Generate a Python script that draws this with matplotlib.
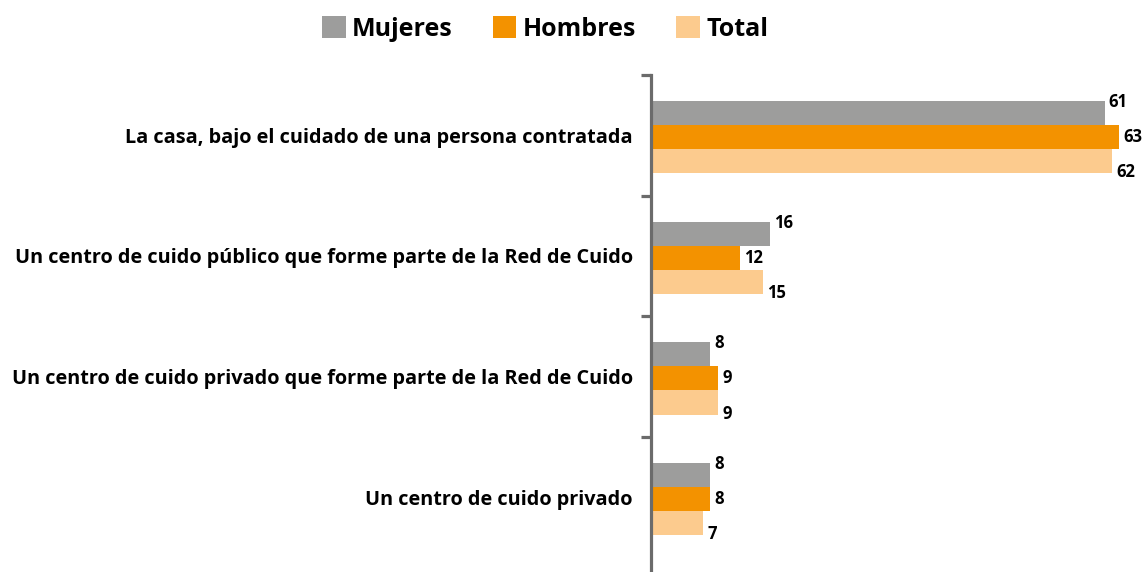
import matplotlib.pyplot as plt
from matplotlib.patches import Patch
import numpy as np

categories = [
    "La casa, bajo el cuidado de una persona contratada",
    "Un centro de cuido público que forme parte de la Red de Cuido",
    "Un centro de cuido privado que forme parte de la Red de Cuido",
    "Un centro de cuido privado",
]
series_names = ["Mujeres", "Hombres", "Total"]
mujeres = [61, 16, 8, 8]
hombres = [63, 12, 9, 8]
total = [62, 15, 9, 7]

colors = ["#9d9d9c", "#f39200", "#fccb8e"]
label_dy = [8, 0, -8]  # points: labels nudged up / down like the original

plt.rcParams['font.family'] = ['Open Sans', 'DejaVu Sans']

fig = plt.figure(figsize=(11.47, 5.72), dpi=100)
ax = fig.add_axes([651 / 1147, 0, 1 - 651 / 1147, 1 - 75 / 572])

y = np.arange(len(categories))
h = 0.2
for i, (vals, col, dy) in enumerate(zip([mujeres, hombres, total], colors, label_dy)):
    pos = y + (i - 1) * h + 0.015
    ax.barh(pos, vals, height=h, color=col, edgecolor='none')
    for p, v in zip(pos, vals):
        ax.annotate(str(v), (v, p), xytext=(3, dy), textcoords='offset points',
                    ha='left', va='center', fontsize=12, fontweight='bold')

ax.set_xlim(0, 66.7)
ax.set_ylim(3.62, -0.5)

# axis: only the left spine with outward ticks at category boundaries
for s in ['top', 'right', 'bottom']:
    ax.spines[s].set_visible(False)
ax.spines['left'].set_color('#6b6b6b')
ax.spines['left'].set_linewidth(2.3)
ax.set_xticks([])
ax.set_yticks([-0.5, 0.5, 1.5, 2.5], minor=False)
ax.set_yticklabels([])
ax.tick_params(axis='y', which='major', length=7, width=2.3, color='#6b6b6b')
ax.set_yticks(y, minor=True)
ax.set_yticklabels(categories, minor=True, fontsize=14.3, fontweight='bold')
ax.tick_params(axis='y', which='minor', length=0, pad=13)

handles = [Patch(facecolor=c, edgecolor='none') for c in colors]
fig.legend(handles, series_names, loc='center', bbox_to_anchor=(545 / 1147, 1 - 29 / 572),
           ncol=3, frameon=False, prop={'weight': 'bold', 'size': 18},
           handlelength=0.95, handleheight=0.95, handletextpad=0.25, columnspacing=1.6)

fig.savefig("out.png", dpi=100)
